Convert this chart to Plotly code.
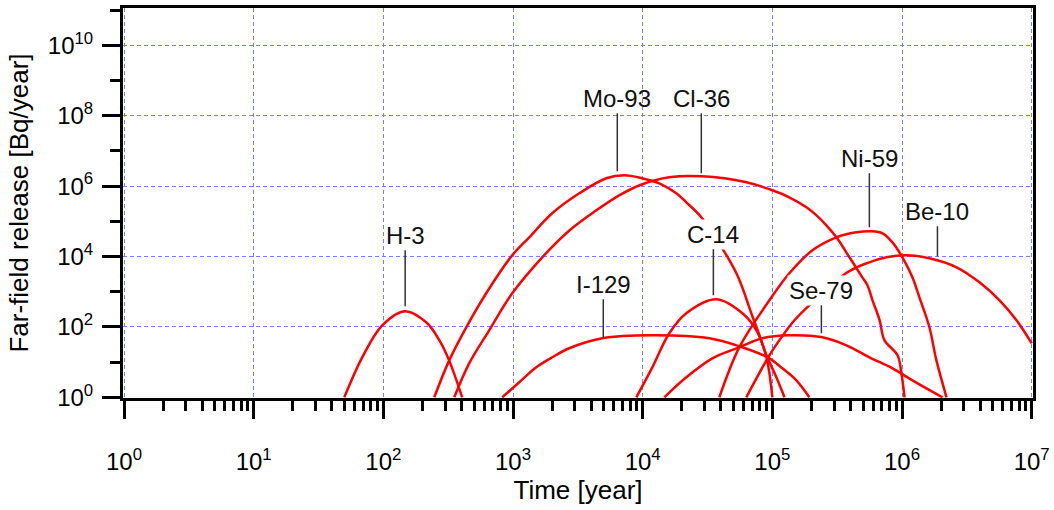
import plotly.graph_objects as go

# ---------------- data (time [year], far-field release [Bq/year]) ----------------
h3_t = [50, 69, 98, 147, 214, 270, 322, 405]
h3_r = [1, 14, 111, 280, 135, 42, 11, 1]

mo93_t = [247, 322, 436, 621, 986, 1334, 2004, 3243, 5236, 7211, 9931, 13430, 18160,
          21680, 28310, 41110, 53700, 68870, 89950, 100000]
mo93_r = [1, 11.2, 97.5, 902, 10810, 35080, 168700, 623700, 1.667e6, 2.028e6, 1.667e6,
          1.202e6, 623700, 346700, 130000, 17100, 2924, 243, 13.7, 1]

cl36_t = [352, 459, 655, 986, 1680, 2720, 4390, 6590, 9930, 16000, 28800, 63000, 100000,
          135000, 183000, 219000, 261000, 312000, 393000, 494000, 541000, 592000, 672000,
          731000, 923000, 989000, 1045000]
cl36_r = [1, 9.2, 80, 900, 9500, 55000, 206000, 548000, 1.13e6, 1.78e6, 1.9e6, 1.28e6,
          760000, 481000, 250000, 148000, 77000, 35000, 9500, 2560, 1520, 570, 154, 42,
          15.6, 4.8, 1]

c14_t = [8930, 11860, 16030, 21680, 36980, 58750, 75340, 91410, 107400, 123900]
c14_r = [1, 7.1, 65.8, 243, 608, 243, 80, 13.7, 3.7, 1]

i129_t = [826, 1117, 1510, 2005, 2716, 4875, 11860, 32660, 55590, 94840, 119400, 153100,
          192800]
i129_r = [1, 2.67, 7.1, 13.7, 24.7, 47.4, 57.7, 47.4, 28.1, 12.8, 6.67, 3.04, 1]

se79_t = [14690, 21680, 34430, 55590, 83750, 135200, 243200, 372400, 559800, 843300,
          1202000, 2051000]
se79_r = [1, 3.7, 12.8, 26.3, 47.4, 57.7, 50.7, 30.0, 13.7, 6.67, 3.04, 1]

ni59_t = [38990, 55590, 94840, 135200, 203700, 311900, 444600, 580800, 706300, 843300,
          1007000, 1202000, 1361000, 1626000, 1841000, 2203000]
ni59_r = [1, 26.3, 570, 3334, 15000, 35100, 48700, 52000, 45600, 25300, 9490, 2565, 693,
          97.5, 11.2, 1]

be10_t = [62950, 94840, 113200, 147900, 200000, 379300, 530900, 758600, 1081000, 1626000,
          2630000, 3954000, 5649000, 7638000, 10000000]
be10_r = [1, 15.6, 41.6, 154, 468, 3556, 6412, 9484, 10810, 8892, 4932, 1849, 570, 154, 34.2]

series = [
    ("H-3", h3_t, h3_r),
    ("Mo-93", mo93_t, mo93_r),
    ("Cl-36", cl36_t, cl36_r),
    ("C-14", c14_t, c14_r),
    ("I-129", i129_t, i129_r),
    ("Se-79", se79_t, se79_r),
    ("Ni-59", ni59_t, ni59_r),
    ("Be-10", be10_t, be10_r),
]

x_exps = list(range(0, 8))
y_major_exps = list(range(0, 11, 2))
y_minor_exps = list(range(1, 12, 2))

# label: (text, leader end log10 x, leader end log10 y, label offset px, white box)
labels = [
    ("H-3", 2.168, 2.585, -71, False),
    ("Mo-93", 3.804, 6.42, -73, False),
    ("Cl-36", 4.452, 6.364, -75, False),
    ("C-14", 4.545, 2.898, -61, True),
    ("I-129", 3.696, 1.705, -53, False),
    ("Ni-59", 5.748, 4.83, -69, False),
    ("Be-10", 6.273, 4.006, -45, False),
    ("Se-79", 5.378, 1.818, -43, True),
]

FONT = "Liberation Sans, Arial, sans-serif"

fig = go.Figure()
for name, t, r in series:
    fig.add_trace(go.Scatter(
        x=t, y=r, mode="lines", name=name,
        line=dict(color="#ff0000", width=2.5, shape="spline", smoothing=1.0),
        showlegend=False, hoverinfo="skip",
    ))

for text, lx, ly, dy, box in labels:
    fig.add_annotation(
        x=lx, y=ly, xref="x", yref="y", text=text,
        showarrow=True, arrowhead=0, arrowwidth=1.5, arrowcolor="#333333",
        ax=0, ay=dy, standoff=0, startstandoff=0,
        font=dict(family=FONT, size=24, color="#111111"),
        bgcolor="white" if box else "rgba(0,0,0,0)", borderpad=1,
    )

grid_color = "#7a7aff"
fig.update_xaxes(
    type="log", range=[-0.008, 7.01],
    tickmode="array",
    tickvals=[10 ** e for e in x_exps],
    ticktext=[f"10<sup>{e}</sup>" for e in x_exps],
    ticks="outside", ticklen=18, tickwidth=3, tickcolor="black",
    showgrid=True, gridcolor=grid_color, gridwidth=1, griddash="4px,3px",
    showline=True, linecolor="black", linewidth=3, mirror=True,
    minor=dict(tickmode="array",
               tickvals=[m * 10 ** e for e in range(0, 7) for m in range(2, 10)],
               ticks="outside", ticklen=10, tickwidth=3, tickcolor="black", showgrid=False),
    tickfont=dict(family=FONT, size=24, color="black"),
    ticklabelstandoff=22,
    title=dict(text="Time [year]", font=dict(family=FONT, size=26, color="black"), standoff=4),
    zeroline=False,
)
fig.update_yaxes(
    type="log", range=[-0.02, 11.06],
    tickmode="array",
    tickvals=[10 ** e for e in y_major_exps],
    ticktext=[f"10<sup>{e}</sup>" for e in y_major_exps],
    ticks="outside", ticklen=18, tickwidth=3, tickcolor="black",
    showgrid=True, gridcolor=grid_color, gridwidth=1, griddash="4px,3px",
    showline=True, linecolor="black", linewidth=3, mirror=True,
    minor=dict(tickmode="array",
               tickvals=[10 ** e for e in y_minor_exps],
               ticks="outside", ticklen=10, tickwidth=3, tickcolor="black", showgrid=False),
    tickfont=dict(family=FONT, size=24, color="black"),
    ticklabelstandoff=4,
    title=dict(text="Far-field release [Bq/year]", font=dict(family=FONT, size=26, color="black"),
               standoff=12),
    zeroline=False,
)
fig.update_layout(
    width=1054, height=510,
    margin=dict(l=123, r=21, t=8, b=112, autoexpand=False),
    paper_bgcolor="white", plot_bgcolor="white",
    showlegend=False,
)
fig.write_html("out.html", config={"displayModeBar": False},
               post_script="document.body.style.margin='0px';")
